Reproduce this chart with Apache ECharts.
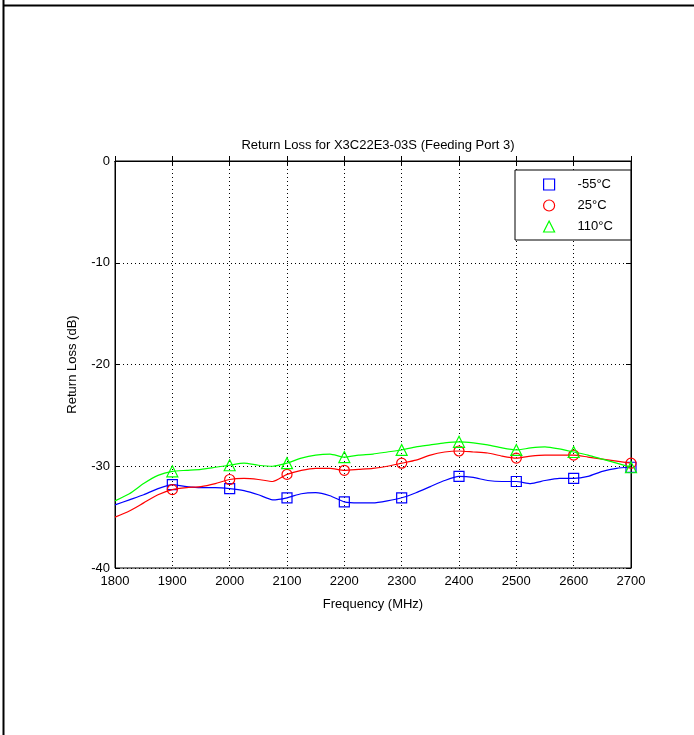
<!DOCTYPE html>
<html>
<head>
<meta charset="utf-8">
<script src="https://cdn.jsdelivr.net/npm/echarts@6/dist/echarts.min.js"></script>
<style>
html,body{margin:0;padding:0;background:#fff;}
#chart{width:694px;height:735px;}
</style>
</head>
<body>
<div id="chart"></div>
<script>
const freqs = [1800,1825,1850,1875,1900,1925,1950,1975,2000,2025,2050,2075,2100,2125,2150,2175,2200,2225,2250,2275,2300,2325,2350,2375,2400,2425,2450,2475,2500,2525,2550,2575,2600,2625,2650,2675,2700];
const lossM55 = [-33.8,-33.3,-32.8,-32.2,-31.8,-32.0,-32.1,-32.1,-32.2,-32.4,-32.8,-33.3,-33.1,-32.7,-32.6,-32.9,-33.5,-33.6,-33.6,-33.4,-33.1,-32.6,-32.0,-31.4,-31.0,-31.1,-31.4,-31.5,-31.5,-31.7,-31.4,-31.2,-31.2,-31.0,-30.5,-30.2,-30.1];
const loss25 = [-35.0,-34.4,-33.6,-32.8,-32.3,-32.1,-32.0,-31.7,-31.3,-31.2,-31.3,-31.5,-30.8,-30.4,-30.2,-30.2,-30.4,-30.3,-30.2,-30.0,-29.7,-29.4,-28.9,-28.6,-28.5,-28.6,-28.7,-29.0,-29.2,-29.0,-28.9,-28.9,-28.9,-29.1,-29.3,-29.5,-29.7];
const loss110 = [-33.4,-32.7,-31.7,-30.9,-30.5,-30.4,-30.3,-30.1,-29.9,-29.7,-29.9,-30.0,-29.7,-29.2,-28.9,-28.8,-29.1,-28.9,-28.8,-28.6,-28.4,-28.1,-27.9,-27.7,-27.6,-27.7,-27.9,-28.2,-28.4,-28.2,-28.1,-28.3,-28.6,-28.9,-29.3,-29.7,-30.1];
const markerFreqs = [1900,2000,2100,2200,2300,2400,2500,2600,2700];
const seriesNames = ['-55°C','25°C','110°C'];
const seriesColors = ['#0000ff','#ff0000','#00ff00'];
const seriesSymbols = ['rect','circle','triangle'];

const font = 'Liberation Sans, Arial, sans-serif';
const chart = echarts.init(document.getElementById('chart'), null, {renderer:'canvas'});
const allLoss = [lossM55, loss25, loss110];

function mkSeries(i){
  return {
    name: seriesNames[i],
    type: 'line',
    data: freqs.map((f,k)=>[f, allLoss[i][k]]),
    symbol: (v)=> (markerFreqs.indexOf(v[0]) >= 0 ? seriesSymbols[i] : 'none'),
    symbolSize: seriesSymbols[i]==='triangle' ? 11 : 10,
    showAllSymbol: true,
    lineStyle: {color: seriesColors[i], width: 1.2},
    itemStyle: {color: 'rgba(0,0,0,0)', borderColor: seriesColors[i], borderWidth: 1.2},
    smooth: 0.2,
    silent: true,
    animation: false,
    z: 3 + i
  };
}

const axisCommon = {
  type: 'value',
  axisLine: {show: true, lineStyle: {color: '#000', width: 1}},
  axisTick: {show: true, inside: true, length: 5, lineStyle: {color: '#000'}},
  axisLabel: {color: '#000', fontFamily: font, fontSize: 13, formatter: (v)=> String(v)},
};

chart.setOption({
  animation: false,
  backgroundColor: '#fff',
  title: {
    text: 'Return Loss for X3C22E3-03S (Feeding Port 3)',
    left: 373, top: 134, textAlign: 'center',
    textStyle: {fontFamily: font, fontSize: 13, fontWeight: 'normal', color: '#000'}
  },
  grid: {left: 115, top: 161, right: 63, bottom: 167, show: true, borderColor: '#000', borderWidth: 1, backgroundColor: '#fff'},
  legend: {
    left: 515, top: 170, orient: 'vertical',
    backgroundColor: '#fff',
    borderColor: '#000', borderWidth: 1,
    padding: [8, 18, 7, 28],
    itemWidth: 11, itemHeight: 11, itemGap: 8,
    textStyle: {fontFamily: font, fontSize: 13, color: '#000', padding: [0, 0, 0, 18]},
    data: seriesNames.map((n,i)=>({name: n, icon: seriesSymbols[i],
      itemStyle: {color: 'rgba(0,0,0,0)', borderColor: seriesColors[i], borderWidth: 1.2}}))
  },
  xAxis: [
    Object.assign({}, axisCommon, {
      min: 1800, max: 2700, interval: 100,
      name: 'Frequency (MHz)', nameLocation: 'middle', nameGap: 30,
      nameTextStyle: {fontFamily: font, fontSize: 13, color: '#000'},
      axisLabel: Object.assign({}, axisCommon.axisLabel, {margin: 7}),
      splitLine: {show: true, lineStyle: {color: '#000', type: [1,3], width: 1}}
    }),
    Object.assign({}, axisCommon, {
      min: 1800, max: 2700, interval: 100, position: 'top',
      axisLabel: {show: false}, splitLine: {show: false}
    })
  ],
  yAxis: [
    Object.assign({}, axisCommon, {
      min: -40, max: 0, interval: 10,
      name: 'Return Loss (dB)', nameLocation: 'middle', nameGap: 36,
      nameTextStyle: {fontFamily: font, fontSize: 13, color: '#000'},
      axisLabel: Object.assign({}, axisCommon.axisLabel, {margin: 5}),
      splitLine: {show: true, lineStyle: {color: '#000', type: [1,3], width: 1}}
    }),
    Object.assign({}, axisCommon, {
      min: -40, max: 0, interval: 10, position: 'right',
      axisLabel: {show: false}, splitLine: {show: false}
    })
  ],
  graphic: [
    {type: 'line', shape: {x1: 3, y1: 5.5, x2: 694, y2: 5.5}, style: {stroke: '#000', lineWidth: 2}},
    {type: 'line', shape: {x1: 3.5, y1: 0, x2: 3.5, y2: 735}, style: {stroke: '#000', lineWidth: 2}}
  ],
  series: [mkSeries(0), mkSeries(1), mkSeries(2)]
});
</script>
</body>
</html>
